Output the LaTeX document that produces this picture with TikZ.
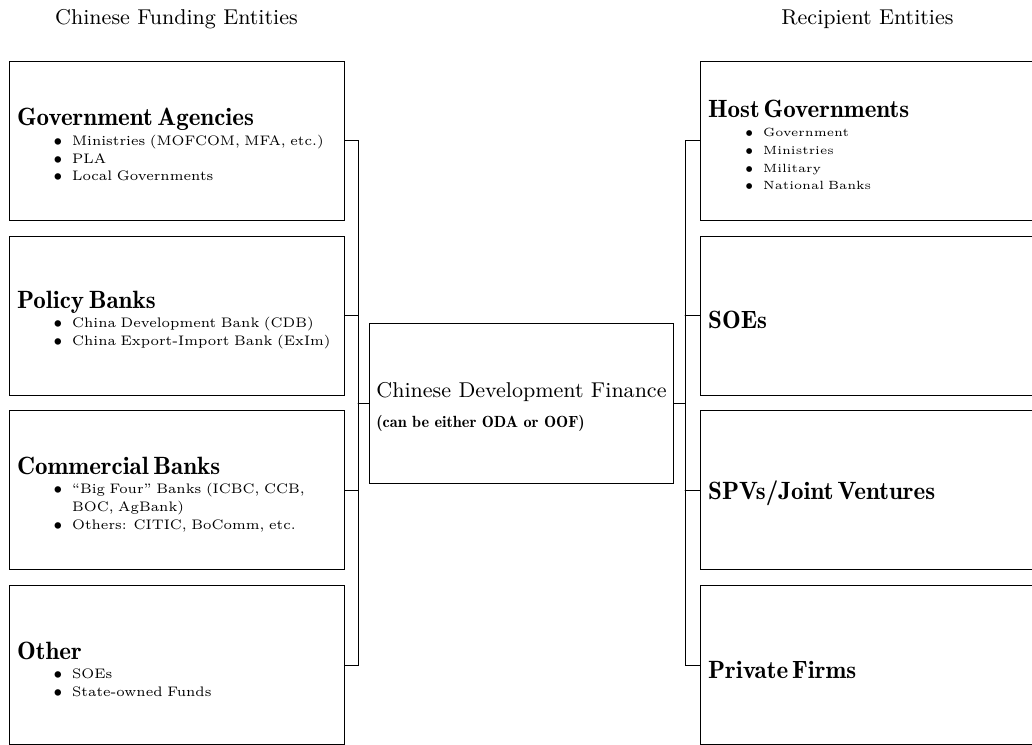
\documentclass[tikz,border=0pt]{standalone}
\usepackage{amsmath}
\usepackage{amssymb}
\usepackage{pgf,tikz}

\newenvironment{entlist}{\begin{list}{$\bullet$}{%
  \setlength{\leftmargin}{23.1pt}\setlength{\labelwidth}{12pt}%
  \setlength{\labelsep}{4pt}\setlength{\topsep}{0pt}%
  \setlength{\itemsep}{0pt}\setlength{\parsep}{0pt}\setlength{\partopsep}{0pt}}}%
  {\end{list}}
\newcommand{\enttitle}[1]{{\fontsize{10.5}{12}\fontseries{b}\selectfont\rule{0pt}{11pt}#1\par}\vspace{0.6pt}}

\begin{document}
\begin{tikzpicture}[line cap=round,x=0.42pt,y=-0.42pt,
  fundbox/.style={draw,rectangle,minimum width=140.7pt,minimum height=66.8pt,
    text width=133.9pt,inner xsep=3.4pt,inner ysep=0pt,align=left,
    font=\fontsize{5.8}{7.5}\selectfont},
  recbox/.style={fundbox,font=\fontsize{5}{7.5}\selectfont},
  finbox/.style={draw,rectangle,minimum width=127.3pt,minimum height=67.2pt,
    inner xsep=3pt,align=left,font=\small}]
\useasboundingbox (0,0) rectangle (1032,745);
% column headings
\node (fundhead) at (176.5,19) {\small Chinese Funding Entities};
\node (rechead) at (867.5,19) {\small Recipient Entities};
% funding side
\node[fundbox] (gov) at (176.5,140.5) {\enttitle{Government Agencies}
  \begin{entlist}
  \item Ministries (MOFCOM, MFA, etc.)
  \item PLA
  \item Local Governments
  \end{entlist}};
\node[fundbox] (pol) at (176.5,315.5) {\enttitle{Policy Banks}
  \begin{entlist}
  \item China Development Bank (CDB)
  \item China Export-Import Bank (ExIm)
  \end{entlist}};
\node[fundbox] (com) at (176.5,490) {\enttitle{Commercial Banks}
  \begin{entlist}
  \item ``Big Four'' Banks (ICBC, CCB,\newline BOC, AgBank)
  \item Others: CITIC, BoComm, etc.
  \end{entlist}};
\node[fundbox] (oth) at (176.5,665) {\enttitle{Other}
  \begin{entlist}
  \item SOEs
  \item State-owned Funds
  \end{entlist}};
% finance in the middle
\node[finbox] (cdf) at (521.5,403) {\rule{0pt}{9.6pt}Chinese Development Finance\\[1.8pt]
  {\fontsize{6.8}{8}\fontseries{b}\selectfont (can be either ODA or OOF)}};
% recipient side
\node[recbox] (host) at (867.5,140.5) {\enttitle{Host Governments}
  \begin{entlist}
  \item Government
  \item Ministries
  \item Military
  \item National Banks
  \end{entlist}};
\node[recbox] (soe) at (867.5,315.5) {\enttitle{SOEs}};
\node[recbox] (spv) at (867.5,490) {\enttitle{SPVs/Joint Ventures}};
\node[recbox] (priv) at (867.5,665) {\enttitle{Private Firms}};
% brackets
\coordinate (lbus) at (358,0);
\coordinate (rbus) at (685,0);
\draw (gov.east) -- (gov.east -| lbus) -- (oth.east -| lbus) -- (oth.east);
\draw (pol.east) -- (pol.east -| lbus);
\draw (com.east) -- (com.east -| lbus);
\draw (cdf.west) -- (cdf.west -| lbus);
\draw (host.west) -- (host.west -| rbus) -- (priv.west -| rbus) -- (priv.west);
\draw (soe.west) -- (soe.west -| rbus);
\draw (spv.west) -- (spv.west -| rbus);
\draw (cdf.east) -- (cdf.east -| rbus);
\end{tikzpicture}
\end{document}
